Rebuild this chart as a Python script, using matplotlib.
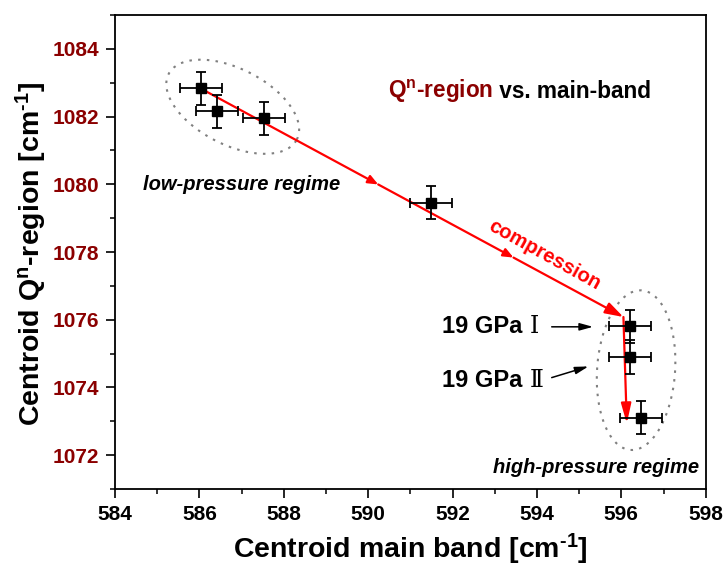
import numpy as np
import matplotlib
matplotlib.use('Agg')
import matplotlib.pyplot as plt
from matplotlib.ticker import MultipleLocator

plt.rcParams['font.family'] = ['Liberation Sans', 'DejaVu Sans']
plt.rcParams['mathtext.fontset'] = 'custom'
plt.rcParams['mathtext.rm'] = 'Liberation Sans:bold'
plt.rcParams['mathtext.bf'] = 'Liberation Sans:bold'
plt.rcParams['mathtext.it'] = 'Liberation Sans:bold'
plt.rcParams['mathtext.default'] = 'bf'

# centroid positions
main_band = [586.03, 586.42, 587.54, 591.49, 596.21, 596.21, 596.46]
qn_region = [1082.83, 1082.16, 1081.95, 1079.46, 1075.81, 1074.90, 1073.11]
main_err = [0.5, 0.5, 0.5, 0.5, 0.5, 0.5, 0.5]
qn_err = [0.49, 0.49, 0.49, 0.49, 0.49, 0.49, 0.49]

# compression path (red arrow)
path_x = [586.03, 596.05, 596.13]
path_y = [1082.83, 1076.08, 1072.93]

xticks = [584, 586, 588, 590, 592, 594, 596, 598]
yticks = [1072, 1074, 1076, 1078, 1080, 1082, 1084]

darkred = '#8B0000'

fig = plt.figure(figsize=(7.24, 5.74), dpi=100)
ax = fig.add_axes([115/724, 1-489/574, (705.7-115)/724, (489-15)/574])
ax.set_xlim(584, 598)
ax.set_ylim(1071, 1085)

ax.errorbar(main_band, qn_region, xerr=main_err, yerr=qn_err, fmt='s', color='black',
            markersize=7.5, elinewidth=1.3, capsize=3.4, capthick=1.3, zorder=4)

# red path with arrow heads
red = 'red'
def arr(p0, p1, hl, hw, lw=1.6):
    ax.annotate('', xy=p1, xytext=p0,
                arrowprops=dict(arrowstyle='-|>,head_length=%s,head_width=%s' % (hl, hw),
                                color=red, lw=lw, shrinkA=0, shrinkB=0, mutation_scale=10),
                zorder=3)

p0 = (path_x[0], path_y[0])
pc = (path_x[1], path_y[1])
pt = (path_x[2], path_y[2])
m1 = (p0[0] + 0.42*(pc[0]-p0[0]), p0[1] + 0.42*(pc[1]-p0[1]))
m2 = (p0[0] + 0.74*(pc[0]-p0[0]), p0[1] + 0.74*(pc[1]-p0[1]))
arr(p0, m1, 0.6, 0.25)
arr(m1, m2, 0.6, 0.25)
arr(m2, pc, 1.1, 0.35)
arr(pc, pt, 1.2, 0.3)

# dotted ellipses around the regimes (sizes in pixels)
def ring(cx, cy, a, b, ang):
    t = np.linspace(0, 2*np.pi, 300)
    ca, sa = np.cos(np.radians(ang)), np.sin(np.radians(ang))
    dx = a*np.cos(t)*ca - b*np.sin(t)*sa
    dy = a*np.cos(t)*sa + b*np.sin(t)*ca
    x0, y0 = ax.transData.transform((cx, cy))
    pts = ax.transData.inverted().transform(np.column_stack([x0+dx, y0+dy]))
    ax.plot(pts[:, 0], pts[:, 1], color='gray', lw=1.5, ls=(0, (1.2, 3)), zorder=1)

ring(586.79, 1082.29, 72, 38, -27)
ring(596.35, 1074.51, 39, 80, -4)

# texts
t1 = ax.text(590.47, 1082.55, 'Q$^{n}$-region', color=darkred, fontsize=16.3,
             fontweight='bold', va='baseline', ha='left')
fig.canvas.draw()
bb = t1.get_window_extent()
xr = ax.transData.inverted().transform((bb.x1, 0))[0]
ax.text(xr, 1082.55, ' vs. main-band', color='black', fontsize=16.3,
        fontweight='bold', va='baseline', ha='left')

ax.text(584.66, 1079.83, 'low-pressure regime', fontsize=14.5, fontweight='bold',
        fontstyle='italic', va='baseline')
ax.text(592.96, 1071.46, 'high-pressure regime', fontsize=14.5, fontweight='bold',
        fontstyle='italic', va='baseline')
ax.text(594.19, 1077.90, 'compression', fontsize=14.5, fontweight='bold', color=red,
        rotation=-29, ha='center', va='center', rotation_mode='anchor')

ax.text(591.74, 1075.60, '19 GPa', fontsize=17, fontweight='bold', va='baseline')
ax.text(593.84, 1075.60, 'Ⅰ', fontsize=17, family=['DejaVu Serif', 'Noto Sans CJK SC'],
        va='baseline')
ax.text(591.74, 1074.01, '19 GPa', fontsize=17, fontweight='bold', va='baseline')
ax.text(593.84, 1074.01, 'Ⅱ', fontsize=17, family=['DejaVu Serif', 'Noto Sans CJK SC'],
        va='baseline')

bk = dict(arrowstyle='-|>,head_length=0.8,head_width=0.22', color='black', lw=1.1,
          shrinkA=0, shrinkB=0, mutation_scale=10)
ax.annotate('', xy=(595.33, 1075.79), xytext=(594.35, 1075.79), arrowprops=bk)
ax.annotate('', xy=(595.22, 1074.62), xytext=(594.35, 1074.29), arrowprops=bk)

# axes styling
ax.set_xticks(xticks)
ax.set_yticks(yticks)
ax.xaxis.set_minor_locator(MultipleLocator(1))
ax.yaxis.set_minor_locator(MultipleLocator(1))
ax.tick_params(which='major', direction='out', length=6.5, width=1.2, labelsize=15, pad=5)
ax.tick_params(which='minor', direction='out', length=3.5, width=1.1)
ax.tick_params(top=False, right=False, which='both')
ax.tick_params(axis='y', labelcolor=darkred)
for lbl in ax.get_xticklabels() + ax.get_yticklabels():
    lbl.set_fontweight('bold')
for s in ax.spines.values():
    s.set_linewidth(1.3)

ax.set_xlabel(r'Centroid main band [cm$^{\text{-1}}$]', fontsize=20.5, fontweight='bold')
ax.set_ylabel(r'Centroid Q$^{n}$-region [cm$^{\text{-1}}$]', fontsize=20.5, fontweight='bold')
ax.yaxis.set_label_coords(-0.111, 0.495)
ax.xaxis.set_label_coords(0.5, -0.09)
ax.xaxis.label.set_va('top')

fig.savefig('out.png', dpi=100)
